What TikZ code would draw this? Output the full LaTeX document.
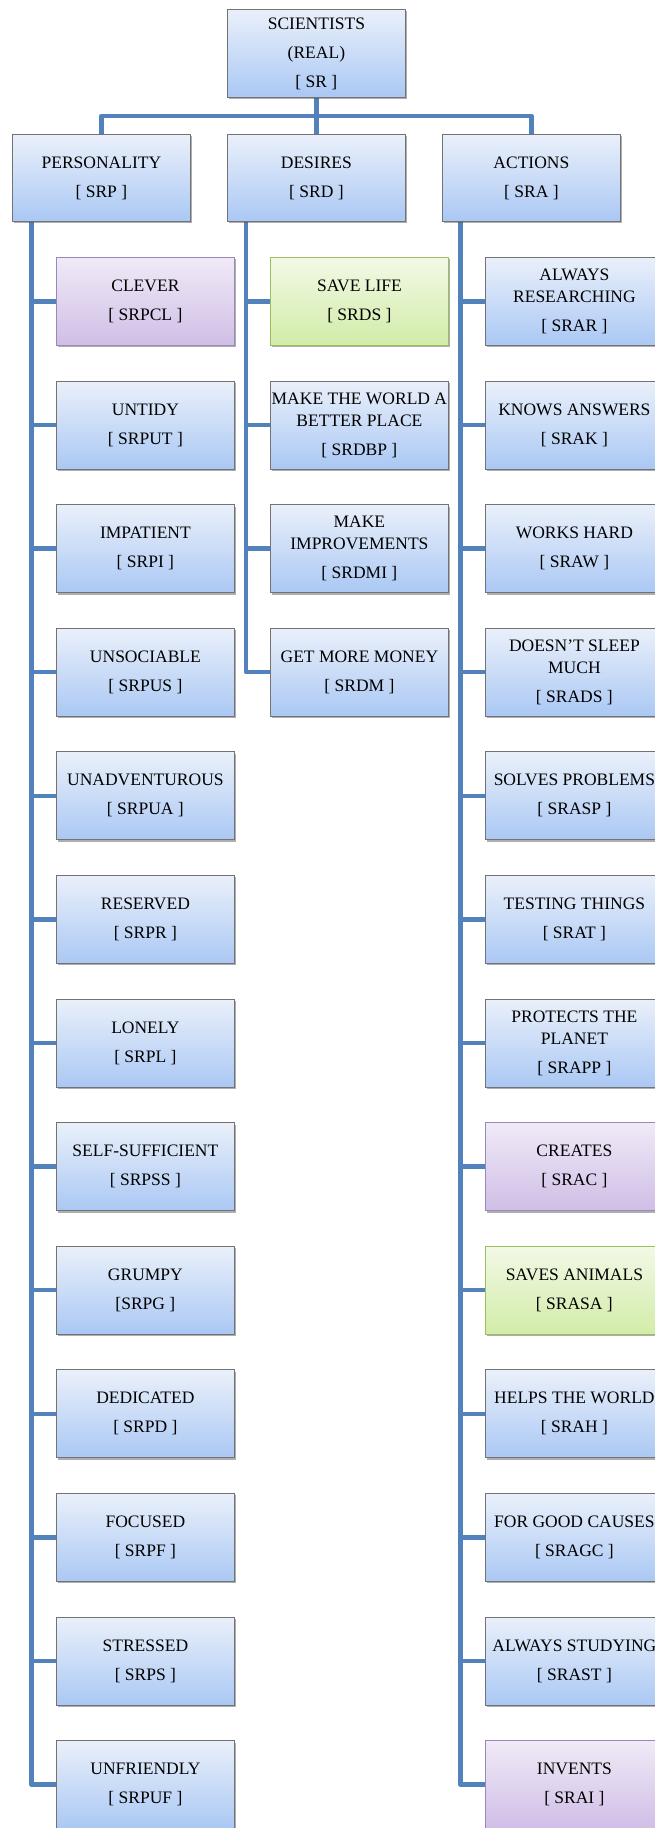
\documentclass[tikz,border=0pt]{standalone}
\usepackage{fontspec}
\setmainfont{Liberation Serif}
\usetikzlibrary{shadows}
\definecolor{linec}{RGB}{82,130,188}
\definecolor{btop}{RGB}{234,240,250}
\definecolor{bmid}{RGB}{208,223,247}
\definecolor{bbot}{RGB}{170,200,244}
\definecolor{bdraw}{RGB}{115,115,115}
\definecolor{ptop}{RGB}{240,234,247}
\definecolor{pmid}{RGB}{226,214,239}
\definecolor{pbot}{RGB}{208,190,230}
\definecolor{pdraw}{RGB}{155,135,185}
\definecolor{gtop}{RGB}{242,249,230}
\definecolor{gmid}{RGB}{228,243,200}
\definecolor{gbot}{RGB}{210,236,168}
\definecolor{gdraw}{RGB}{155,190,95}
\pgfdeclarelayer{bg}
\pgfsetlayers{bg,main}
\tikzset{
  box/.style={rectangle, anchor=north west, minimum width=178pt, minimum height=88pt,
    inner sep=0pt, align=center, draw=bdraw, line width=0.8pt,
    top color=btop, middle color=bmid, bottom color=bbot,
    font=\fontsize{17.5}{22}\selectfont,
    execute at begin node={\rule{0pt}{19pt}},
    drop shadow={shadow xshift=1.5pt, shadow yshift=-2pt, opacity=0.45, fill=black!70}},
  purplebox/.style={box, draw=pdraw, top color=ptop, middle color=pmid, bottom color=pbot},
  greenbox/.style={box, draw=gdraw, top color=gtop, middle color=gmid, bottom color=gbot},
  conn/.style={draw=linec, line width=4.5pt, line join=round}
}
\begin{document}
\begin{tikzpicture}[x=1pt,y=-1pt]
\useasboundingbox (0,0) rectangle (655,1828);
\clip (0,0) rectangle (655,1828);
% top
\node[box] (SR) at (227,9) {SCIENTISTS\\[7pt](REAL)\\[7pt][ SR ]};
\node[box, minimum height=87pt] (P) at (12,134) {PERSONALITY\\[7pt][ SRP ]};
\node[box, minimum height=87pt] (D) at (227,134) {DESIRES\\[7pt][ SRD ]};
\node[box, minimum height=87pt] (A) at (442,134) {ACTIONS\\[7pt][ SRA ]};
% personality
\node[purplebox] (p1) at (56,257) {CLEVER\\[7pt][ SRPCL ]};
\node[box] (p2) at (56,380.6) {UNTIDY\\[7pt][ SRPUT ]};
\node[box] (p3) at (56,504.2) {IMPATIENT\\[7pt][ SRPI ]};
\node[box] (p4) at (56,627.8) {UNSOCIABLE\\[7pt][ SRPUS ]};
\node[box] (p5) at (56,751.4) {UNADVENTUROUS\\[7pt][ SRPUA ]};
\node[box] (p6) at (56,875) {RESERVED\\[7pt][ SRPR ]};
\node[box] (p7) at (56,998.6) {LONELY\\[7pt][ SRPL ]};
\node[box] (p8) at (56,1122.2) {SELF-SUFFICIENT\\[7pt][ SRPSS ]};
\node[box] (p9) at (56,1245.8) {GRUMPY\\[7pt][SRPG ]};
\node[box] (p10) at (56,1369.4) {DEDICATED\\[7pt][ SRPD ]};
\node[box] (p11) at (56,1493) {FOCUSED\\[7pt][ SRPF ]};
\node[box] (p12) at (56,1616.6) {STRESSED\\[7pt][ SRPS ]};
\node[box] (p13) at (56,1740.2) {UNFRIENDLY\\[7pt][ SRPUF ]};
% desires
\node[greenbox] (d1) at (270,257) {SAVE LIFE\\[7pt][ SRDS ]};
\node[box] (d2) at (270,380.6) {\makebox[0pt]{MAKE THE WORLD A}\\BETTER PLACE\\[7pt][ SRDBP ]};
\node[box] (d3) at (270,504.2) {MAKE\\IMPROVEMENTS\\[7pt][ SRDMI ]};
\node[box] (d4) at (270,627.8) {GET MORE MONEY\\[7pt][ SRDM ]};
% actions
\node[box] (a1) at (485,257) {ALWAYS\\RESEARCHING\\[7pt][ SRAR ]};
\node[box] (a2) at (485,380.6) {KNOWS ANSWERS\\[7pt][ SRAK ]};
\node[box] (a3) at (485,504.2) {WORKS HARD\\[7pt][ SRAW ]};
\node[box] (a4) at (485,627.8) {DOESN'T SLEEP\\MUCH\\[7pt][ SRADS ]};
\node[box] (a5) at (485,751.4) {SOLVES PROBLEMS\\[7pt][ SRASP ]};
\node[box] (a6) at (485,875) {TESTING THINGS\\[7pt][ SRAT ]};
\node[box] (a7) at (485,998.6) {PROTECTS THE\\PLANET\\[7pt][ SRAPP ]};
\node[purplebox] (a8) at (485,1122.2) {CREATES\\[7pt][ SRAC ]};
\node[greenbox] (a9) at (485,1245.8) {SAVES ANIMALS\\[7pt][ SRASA ]};
\node[box] (a10) at (485,1369.4) {HELPS THE WORLD\\[7pt][ SRAH ]};
\node[box] (a11) at (485,1493) {FOR GOOD CAUSES\\[7pt][ SRAGC ]};
\node[box] (a12) at (485,1616.6) {ALWAYS STUDYING\\[7pt][ SRAST ]};
\node[purplebox] (a13) at (485,1740.2) {INVENTS\\[7pt][ SRAI ]};
% connectors
\coordinate (bus) at (0,116);
\coordinate (pt) at (31.5,221);
\coordinate (dt) at (246,221);
\coordinate (at) at (460.5,221);
\begin{pgfonlayer}{bg}
\draw[conn] (SR.south) -- (SR.south |- bus);
\draw[conn] (P.north) -- (P.north |- bus) -- (A.north |- bus) -- (A.north);
\draw[conn] (D.north) -- (D.north |- bus);
\draw[conn] (pt) |- (p13.west);
\draw[conn] (dt) |- (d4.west);
\draw[conn] (at) |- (a13.west);
\foreach \i in {1,...,12} {\draw[conn] (p\i.west) -- (p\i.west -| pt);}
\foreach \i in {1,...,3} {\draw[conn] (d\i.west) -- (d\i.west -| dt);}
\foreach \i in {1,...,12} {\draw[conn] (a\i.west) -- (a\i.west -| at);}
\end{pgfonlayer}
\end{tikzpicture}
\end{document}
